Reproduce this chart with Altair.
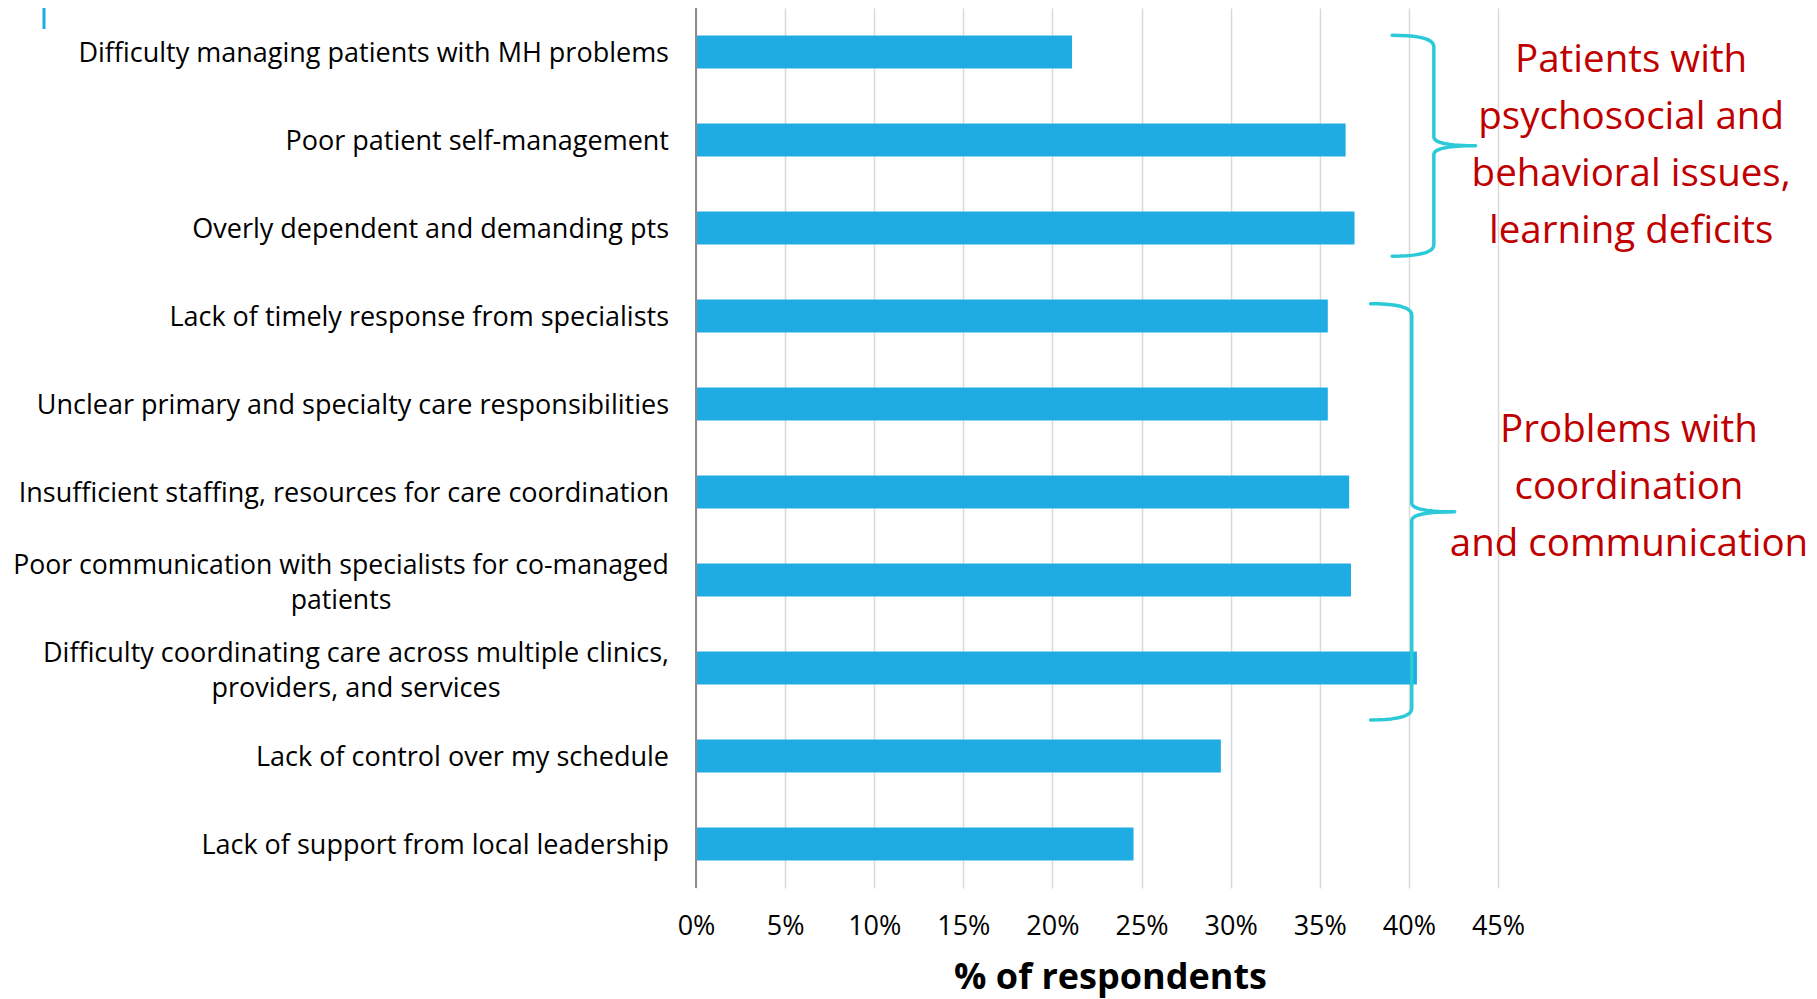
import altair as alt
import pandas as pd

# ---------------- data ----------------
categories = [
    "Difficulty managing patients with MH problems",
    "Poor patient self-management",
    "Overly dependent and demanding pts",
    "Lack of timely response from specialists",
    "Unclear primary and specialty care responsibilities",
    "Insufficient staffing, resources for care coordination",
    "Poor communication with specialists for co-managed\npatients",
    "Difficulty coordinating care across multiple clinics,\nproviders, and services",
    "Lack of control over my schedule",
    "Lack of support from local leadership",
]
values = [0.211, 0.3645, 0.3695, 0.3545, 0.3545, 0.3665, 0.3675, 0.4045, 0.2945, 0.2455]
tick_values = [0, 0.05, 0.10, 0.15, 0.20, 0.25, 0.30, 0.35, 0.40, 0.45]

group_texts = [
    "Patients with\npsychosocial and\nbehavioral issues,\nlearning deficits",
    "Problems with\ncoordination\nand communication",
]
# brace extents (in category-index units) and horizontal placement (share of respondents)
brace_top = [-0.19, 2.86]
brace_bottom = [2.32, 7.59]
brace_arm = [0.3906, 0.3785]
brace_spine = [0.414, 0.4016]
brace_tip = [0.4374, 0.4257]
group_text_x = [0.5247, 0.5235]
group_text_y = [0.095, 4.29]   # position of each block's first line

BAR = "#1FACE3"
BRACE = "#2CCAD9"
RED = "#C00000"
FONT = "Open Sans"
LFS = 27

df = pd.DataFrame({"idx": list(range(len(categories))), "label": categories, "value": values})

# brace polylines built from quadratic curves
rows = []
n = 10
for g in range(len(group_texts)):
    top, bot = brace_top[g], brace_bottom[g]
    xa, xs, xt = brace_arm[g], brace_spine[g], brace_tip[g]
    mid = (top + bot) / 2
    d, d2 = 0.13, 0.1
    segs = [
        ((xa, top), (xs, top), (xs, top + d)),
        ((xs, mid - d2), (xs, mid), (xt, mid)),
        ((xt, mid), (xs, mid), (xs, mid + d2)),
        ((xs, bot - d), (xs, bot), (xa, bot)),
    ]
    for p0, p1, p2 in segs:
        for k in range(n + 1):
            t = k / n
            bx = (1 - t) ** 2 * p0[0] + 2 * (1 - t) * t * p1[0] + t ** 2 * p2[0]
            by = (1 - t) ** 2 * p0[1] + 2 * (1 - t) * t * p1[1] + t ** 2 * p2[1]
            rows.append({"g": g, "o": len(rows), "bx": bx, "by": by})
brace_df = pd.DataFrame(rows)
gt_df = pd.DataFrame({"text": group_texts, "tx": group_text_x, "ty": group_text_y})

xs_ = alt.Scale(domain=[0, 0.45], nice=False, zero=True, padding=0)
ys_ = alt.Scale(domain=[-0.5, 9.5], reverse=True, nice=False, zero=False, padding=0)

x_axis = alt.Axis(
    values=tick_values,
    format=".0%",
    grid=True,
    gridColor="#D9D9D9",
    gridWidth=1.5,
    domain=False,
    ticks=False,
    labelFlush=False,
    labelFont=FONT,
    labelFontSize=LFS,
    labelColor="#000000",
    labelPadding=25,
    title="% of respondents",
    titleFont=FONT,
    titleFontSize=36,
    titleFontWeight="bold",
    titleColor="#000000",
    titleX=414,
    titleY=100,
    titleAlign="center",
    titleBaseline="alphabetic",
)

base = alt.Chart(df)

bars = base.mark_bar(size=33, color=BAR, orient="horizontal").encode(
    x=alt.X("value:Q", scale=xs_, axis=x_axis),
    y=alt.Y("idx:Q", scale=ys_, axis=None),
)

zero_rule = alt.Chart(pd.DataFrame({"z": [0.0]})).mark_rule(color="#8C8C8C", strokeWidth=2).encode(
    x=alt.X("z:Q", scale=xs_, axis=x_axis)
)

single = base.transform_filter("indexof(datum.label, '\\n') < 0").mark_text(
    align="right", baseline="middle", font=FONT, fontSize=LFS, color="#000000", dy=2
).encode(x=alt.value(-27), y=alt.Y("idx:Q", scale=ys_, axis=None), text="label:N")

multi1 = base.transform_filter("datum.idx == 6").mark_text(
    align="center", baseline="middle", font=FONT, fontSize=26.6, color="#000000",
    lineBreak="\n", lineHeight=35, dy=-14.5,
).encode(x=alt.value(-355), y=alt.Y("idx:Q", scale=ys_, axis=None), text="label:N")

multi2 = base.transform_filter("datum.idx == 7").mark_text(
    align="center", baseline="middle", font=FONT, fontSize=LFS, color="#000000",
    lineBreak="\n", lineHeight=35, dy=-14.5,
).encode(x=alt.value(-340), y=alt.Y("idx:Q", scale=ys_, axis=None), text="label:N")

braces = alt.Chart(brace_df).mark_line(
    color=BRACE, strokeWidth=3.5, strokeCap="round", strokeJoin="round"
).encode(
    x=alt.X("bx:Q", scale=xs_, axis=x_axis),
    y=alt.Y("by:Q", scale=ys_, axis=None),
    detail="g:N",
    order="o:Q",
)

gtext = alt.Chart(gt_df).mark_text(
    align="center", baseline="middle", font=FONT, fontSize=38.5, color=RED,
    lineBreak="\n", lineHeight=57,
).encode(
    x=alt.X("tx:Q", scale=xs_, axis=x_axis),
    y=alt.Y("ty:Q", scale=ys_, axis=None),
    text="text:N",
)

deco = alt.Chart(pd.DataFrame({"a": [1]})).mark_rule(color="#1FACE3", strokeWidth=3).encode(
    x=alt.value(-652), y=alt.value(0), y2=alt.value(21)
)

chart = alt.layer(bars, zero_rule, single, multi1, multi2, braces, gtext, deco).properties(
    width=802,
    height=880,
    autosize=alt.AutoSizeParams(type="none"),
    padding={"left": 688, "top": 0, "right": 311, "bottom": 111},
).configure_view(strokeWidth=0)

chart.save("out.html", embed_options={"renderer": "svg", "actions": False})
